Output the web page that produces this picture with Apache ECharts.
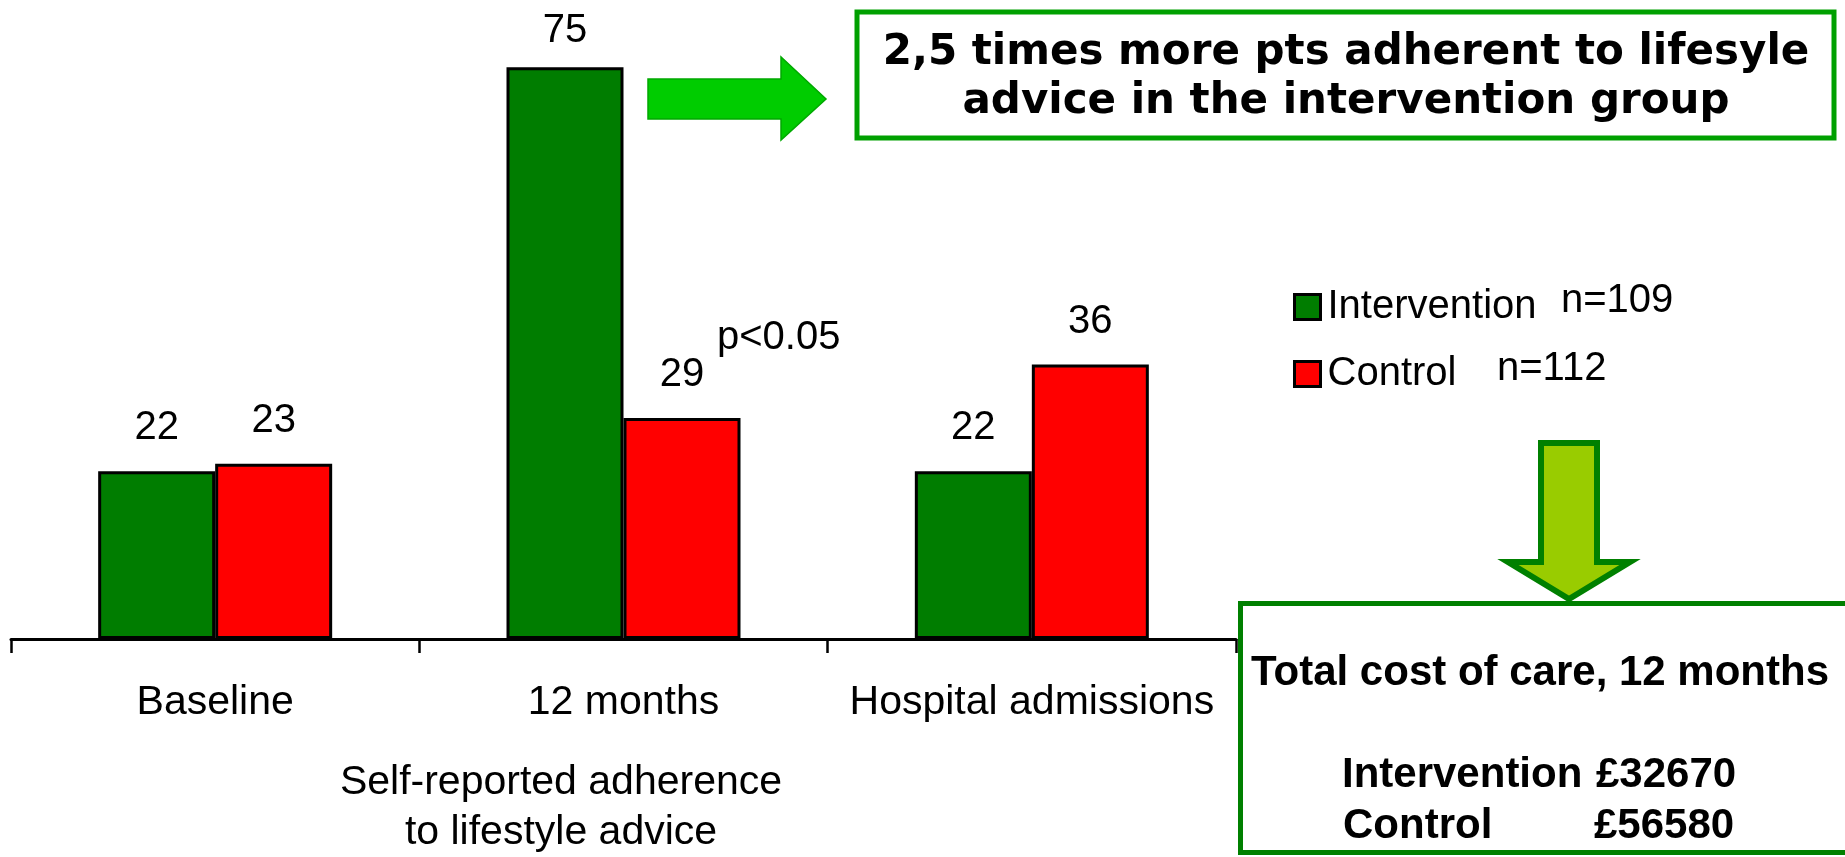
<!DOCTYPE html>
<html>
<head>
<meta charset="utf-8">
<title>Adherence and hospital admissions</title>
<script src="https://cdn.jsdelivr.net/npm/echarts@6/dist/echarts.min.js"></script>
<style>
  html, body { margin: 0; padding: 0; background: #ffffff; }
  #chart { width: 1845px; height: 857px; }
</style>
</head>
<body>
<div id="chart"></div>
<script>
// Groups along the x axis
const categories = ['Baseline', '12 months', 'Hospital admissions'];
// Percent / counts per group
const interventionValues = [22, 75, 22];
const controlValues = [23, 29, 36];
// Group sizes shown next to the legend
const interventionN = 'n=109';
const controlN = 'n=112';
// Cost box contents
const costTitle = 'Total cost of care, 12 months';
const costLabels = ['Intervention', 'Control'];
const costValues = ['£32670', '£56580'];
const headline = ['2,5 times more pts adherent to lifesyle', 'advice in the intervention group'];
const axisCaption = 'Self-reported adherence\nto lifestyle advice';
const pValue = 'p<0.05';

const SANS = '"Liberation Sans", Arial, Helvetica, sans-serif';
const GREEN = '#007d00';
const RED = '#ff0000';

const chart = echarts.init(document.getElementById('chart'), null, { renderer: 'canvas' });

// text placed by its baseline
function txt(text, x, baseline, size, opts) {
  opts = opts || {};
  return {
    type: 'text',
    z: 20,
    style: {
      text: text,
      x: x,
      y: baseline - 0.31 * size,
      fill: '#000',
      font: (opts.bold ? 'bold ' : '') + size + 'px ' + (opts.family || SANS),
      textAlign: opts.align || 'left',
      textVerticalAlign: 'middle'
    }
  };
}

const barLabel = {
  show: true,
  position: 'top',
  distance: 23,
  color: '#000',
  fontSize: 40,
  fontFamily: SANS
};

// the tallest bar keeps its value label a little closer to the top edge
function withLabels(values) {
  const top = Math.max.apply(null, values);
  return values.map(function (v) {
    return v === top && v > 60 ? { value: v, label: { distance: 16 } } : v;
  });
}

const option = {
  backgroundColor: '#ffffff',
  animation: false,
  grid: { left: 11, right: 609, top: 29, bottom: 218, containLabel: false },
  legend: {
    orient: 'vertical',
    left: 1288,
    top: 282,
    itemWidth: 26,
    itemHeight: 25,
    itemGap: 27,
    icon: 'rect',
    itemStyle: { borderColor: '#000', borderWidth: 3 },
    textStyle: { color: '#000', fontSize: 40, fontFamily: SANS, padding: [0, 0, 0, 2] },
    data: ['Intervention', 'Control']
  },
  xAxis: {
    type: 'category',
    data: categories,
    boundaryGap: true,
    axisLine: { show: true, lineStyle: { color: '#000', width: 3 } },
    axisTick: { show: true, length: 14, lineStyle: { color: '#000', width: 2.5 } },
    axisLabel: { interval: 0, color: '#000', fontSize: 41, fontFamily: SANS, margin: 43, hideOverlap: false },
    splitLine: { show: false }
  },
  yAxis: {
    type: 'value',
    min: 0,
    max: 80,
    show: false,
    splitLine: { show: false }
  },
  series: [
    {
      name: 'Intervention',
      type: 'bar',
      data: withLabels(interventionValues),
      barWidth: 117,
      barGap: '0%',
      itemStyle: { color: GREEN, borderColor: '#000', borderWidth: 3 },
      label: barLabel
    },
    {
      name: 'Control',
      type: 'bar',
      data: controlValues,
      barWidth: 117,
      barGap: '0%',
      itemStyle: { color: RED, borderColor: '#000', borderWidth: 3 },
      label: barLabel
    }
  ],
  graphic: [
    // headline box
    {
      type: 'rect', z: 10,
      shape: { x: 857, y: 12, width: 977, height: 126 },
      style: { fill: '#ffffff', stroke: '#00a000', lineWidth: 5 }
    },
    txt(headline[0], 1346, 66, 42, { bold: true, align: 'center', family: '"DejaVu Sans", Verdana, sans-serif' }),
    txt(headline[1], 1346, 115, 42, { bold: true, align: 'center', family: '"DejaVu Sans", Verdana, sans-serif' }),
    // arrow pointing at the headline
    {
      type: 'polygon', z: 10,
      shape: { points: [[648, 79], [781, 79], [781, 57], [826, 99], [781, 140], [781, 119], [648, 119]] },
      style: { fill: '#00cc00', stroke: '#00a800', lineWidth: 1.5 }
    },
    // significance note
    txt(pValue, 717, 350, 40),
    // group sizes
    txt(interventionN, 1561, 313, 40),
    txt(controlN, 1497, 381, 40),
    // caption under the first two groups
    txt(axisCaption.split('\n')[0], 561, 795, 41, { align: 'center' }),
    txt(axisCaption.split('\n')[1], 561, 845, 41, { align: 'center' }),
    // cost box
    {
      type: 'rect', z: 10,
      shape: { x: 1240.5, y: 603.5, width: 620, height: 249 },
      style: { fill: '#ffffff', stroke: '#008000', lineWidth: 5 }
    },
    txt(costTitle, 1540, 686, 42, { bold: true, align: 'center' }),
    txt(costLabels[0], 1342, 788, 42, { bold: true }),
    txt(costValues[0], 1596, 788, 42, { bold: true }),
    txt(costLabels[1], 1343, 839, 42, { bold: true }),
    txt(costValues[1], 1594, 839, 42, { bold: true }),
    // arrow down into the cost box
    {
      type: 'polygon', z: 12,
      shape: { points: [[1541, 443], [1597, 443], [1597, 562], [1630, 562], [1569, 599], [1508, 562], [1541, 562]] },
      style: { fill: '#99cc00', stroke: '#008000', lineWidth: 6, lineJoin: 'miter' }
    }
  ]
};

chart.setOption(option);
</script>
</body>
</html>
